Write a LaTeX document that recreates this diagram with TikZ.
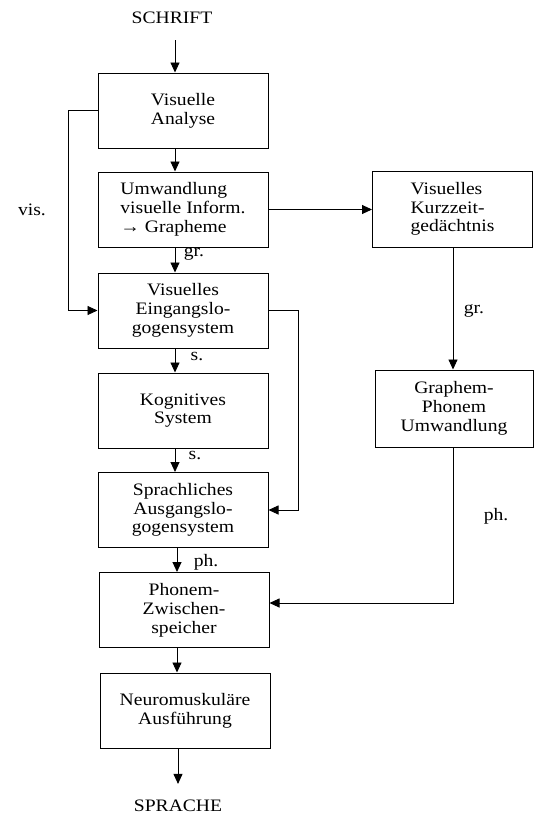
\documentclass[tikz,border=0pt]{standalone}
\usepackage{fontspec}
\setmainfont{Liberation Serif}[FakeStretch=1.12]
\usetikzlibrary{arrows.meta}
\begin{document}
\begin{tikzpicture}[x=1pt,y=-1pt,
  font=\fontsize{17.5}{18.8}\selectfont,
  box/.style={draw,line width=1pt,minimum width=170pt,minimum height=75pt,align=center,inner sep=2pt},
  rbox/.style={draw,line width=1pt,minimum width=160pt,minimum height=76pt,align=center,inner sep=2pt},
  arr/.style={line width=0.9pt,-{Triangle[length=10pt,width=9pt]}},
  lbl/.style={inner sep=0pt}]
\useasboundingbox (0,0) rectangle (534,814);

% column guide coordinates
\coordinate (col) at (175,0);
\coordinate (visx) at (68,0);
\coordinate (rx) at (298,0);
\coordinate (phy) at (0,603);

% terminals
\node[lbl] (schrift) at (172,18) {SCHRIFT};
\node[lbl] (sprache) at (178,806) {SPRACHE};

% left column
\node[box] (va) at (183,110.5) {Visuelle\\Analyse};
\node[box,align=left] (um) at (183,209.5) {Umwandlung\\visuelle Inform.\\→ Grapheme};
\node[box] (ve) at (183,310.5) {Visuelles\\Eingangslo-\\gogensystem};
\node[box] (ks) at (183,410.5) {Kognitives\\System};
\node[box] (sa) at (183,510) {Sprachliches\\Ausgangslo-\\gogensystem};
\node[box] (pz) at (184,610) {Phonem-\\Zwischen-\\speicher};
\node[box] (na) at (185,710.5) {Neuromuskuläre\\Ausführung};

% right column
\node[rbox,align=left] (kz) at (452.5,209) {Visuelles\\Kurzzeit-\\gedächtnis};
\node[rbox,minimum width=158pt,minimum height=77pt] (gp) at (454,408.5) {Graphem-\\Phonem\\Umwandlung};

% main vertical flow
\draw[arr] ([yshift=-16pt]schrift.south -| col) -- (va.north -| col);
\draw[arr] (va.south -| col) -- (um.north -| col);
\draw[arr] (um.south -| col) -- (ve.north -| col);
\draw[arr] (ve.south -| col) -- (ks.north -| col);
\draw[arr] (ks.south -| col) -- (sa.north -| col);
\draw[arr] ([xshift=2pt]sa.south -| col) -- ([xshift=2pt]pz.north -| col);
\draw[arr] ([xshift=2pt]pz.south -| col) -- ([xshift=2pt]na.north -| col);
\draw[arr] ([xshift=3pt]na.south -| col) -- ([xshift=3pt,yshift=16pt]sprache.north -| col);

% side routes
\draw[arr] (va.west) -- (va.west -| visx) -- (ve.west -| visx) -- (ve.west);
\draw[arr] (um.east) -- (um.east -| kz.west);
\draw[arr] (ve.east) -- (ve.east -| rx) -- (sa.east -| rx) -- (sa.east);
\draw[arr] (kz.south -| 453,0) -- (gp.north -| 453,0);
\draw[arr] (gp.south -| 453,0) -- (phy -| 453,0) -- (phy -| pz.east);

% labels
\node[lbl] (lvis) at (32,210) {vis.};
\node[lbl] (lgr1) at (194,254) {gr.};
\node[lbl] (ls1) at (197,356) {s.};
\node[lbl] (ls2) at (195,455) {s.};
\node[lbl] (lph1) at (206,562) {ph.};
\node[lbl] (lgr2) at (474,311) {gr.};
\node[lbl] (lph2) at (496,516) {ph.};
\end{tikzpicture}
\end{document}
